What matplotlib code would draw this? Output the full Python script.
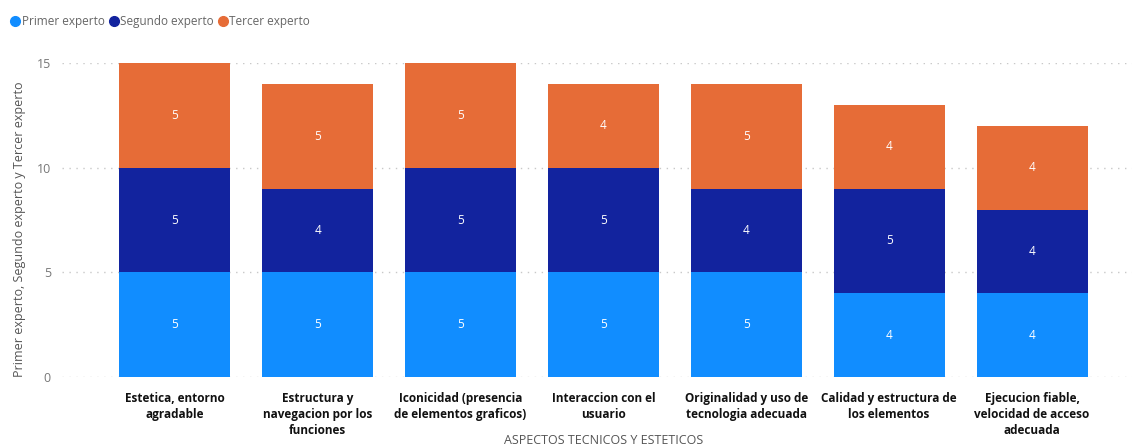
import matplotlib.pyplot as plt
from matplotlib.lines import Line2D
import matplotlib.transforms as mtransforms
import numpy as np

# evaluation scores per aspect, one list per expert
aspectos = [
    "Estetica, entorno\nagradable",
    "Estructura y\nnavegacion por los\nfunciones",
    "Iconicidad (presencia\nde elementos graficos)",
    "Interaccion con el\nusuario",
    "Originalidad y uso de\ntecnologia adecuada",
    "Calidad y estructura de\nlos elementos",
    "Ejecucion fiable,\nvelocidad de acceso\nadecuada",
]
primer = [5, 5, 5, 5, 5, 4, 4]
segundo = [5, 4, 5, 5, 4, 5, 4]
tercer = [5, 5, 5, 4, 5, 4, 4]

series = ["Primer experto", "Segundo experto", "Tercer experto"]
colores = ["#118DFF", "#12239E", "#E66C37"]

plt.rcParams['font.family'] = ['Open Sans', 'DejaVu Sans']

fig = plt.figure(figsize=(11.34, 4.47), dpi=100)
ax = fig.add_axes([62 / 1134, 1 - 377 / 447, (1132 - 62) / 1134, (377 - 63) / 447])

x = np.arange(len(aspectos))
bottom = np.zeros(len(aspectos))
for vals, color in zip([primer, segundo, tercer], colores):
    vals = np.array(vals)
    ax.bar(x, vals, width=0.777, bottom=bottom, color=color, zorder=2)
    for xi, b, v in zip(x, bottom, vals):
        ax.text(xi, b + v / 2, str(v), ha='center', va='center',
                color='white', fontsize=8.5, zorder=3)
    bottom += vals

ax.set_xlim(-0.79, 6.70)
ax.set_ylim(0, 15)
ax.set_yticks([0, 5, 10, 15])
ax.yaxis.grid(True, linestyle=(0, (1, 4)), color='#c8c8c8', linewidth=1, zorder=0)
ax.tick_params(axis='y', length=0, colors='#777777', labelsize=9, pad=8)
ax.tick_params(axis='x', length=0, pad=11)
ax.set_xticks(x)
ax.set_xticklabels(aspectos, fontsize=8.5, fontweight='bold', color='#111111',
                   linespacing=1.3)
for s in ax.spines.values():
    s.set_visible(False)

ax.set_ylabel("Primer experto, Segundo experto y Tercer experto",
              fontsize=9, color='#555555')
ax.yaxis.set_label_coords(-0.034, 0.47)

trans = mtransforms.blended_transform_factory(ax.transData, fig.transFigure)
ax.text(3, 1 - 441 / 447, "ASPECTOS TECNICOS Y ESTETICOS", transform=trans,
        ha='center', va='center', fontsize=9, color='#555555')

handles = [Line2D([], [], marker='o', linestyle='', markersize=7,
                  markerfacecolor=c, markeredgecolor=c) for c in colores]
fig.legend(handles, series, loc='upper left', bbox_to_anchor=(0.0, 0.985),
           ncol=3, frameon=False, fontsize=8.5, handletextpad=-0.05,
           columnspacing=0.15, handlelength=1.2, labelcolor='#666666',
           borderaxespad=0.3)

fig.savefig("out.png", dpi=100)
